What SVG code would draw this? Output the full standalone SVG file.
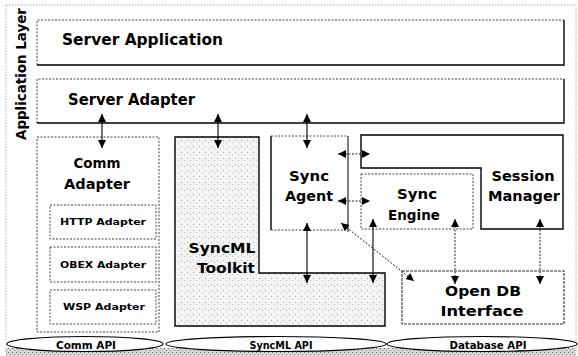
<svg xmlns="http://www.w3.org/2000/svg" width="578" height="356" viewBox="0 0 578 356">
<style>
.t{font-family:"DejaVu Sans","Liberation Sans",sans-serif;font-weight:bold;fill:#000}
.big{font-size:15px}
.mid{font-size:14px}
.sm{font-size:8.5px}
.api{font-size:10.5px}
.solid{fill:none;stroke:#000;stroke-width:1.4}
.dot{fill:none;stroke:#444;stroke-width:1;stroke-dasharray:2 1.5}
.arr{fill:none;stroke:#000;stroke-width:1.1;marker-start:url(#ah);marker-end:url(#ah)}
.arrd{fill:none;stroke:#222;stroke-width:1;stroke-dasharray:2 1.5;marker-start:url(#ah);marker-end:url(#ah)}
</style>
<defs>
<marker id="ah" viewBox="0 0 10 10" refX="10" refY="5" markerWidth="8" markerHeight="8" markerUnits="userSpaceOnUse" orient="auto-start-reverse">
<path d="M0,0 L10,5 L0,10 z" fill="#000"/>
</marker>
<pattern id="speck" width="6" height="6" patternUnits="userSpaceOnUse">
<rect width="6" height="6" fill="#f4f4f4"/>
<rect x="1" y="2" width="1" height="1" fill="#aaa"/>
<rect x="4" y="4" width="1" height="1" fill="#bbb"/>
</pattern>
<pattern id="band" width="4" height="4" patternUnits="userSpaceOnUse">
<rect width="4" height="4" fill="#d8d8d8"/>
<rect x="0" y="0" width="1" height="1" fill="#666"/>
<rect x="2" y="2" width="1" height="1" fill="#888"/>
</pattern>
</defs>
<rect width="578" height="356" fill="#fff"/>
<rect x="6" y="5" width="570" height="349" fill="none" stroke="#999" stroke-width="0.8" stroke-dasharray="1.5 1.5"/>

<g id="application-layer">
<text class="t mid" x="26" y="74" text-anchor="middle" textLength="132" lengthAdjust="spacingAndGlyphs" transform="rotate(-90 26 74)">Application Layer</text>
</g>

<g id="server-application">
<path class="dot" d="M37,65 V20 H564"/>
<path class="solid" d="M37,65 H564 V20"/>
<text class="t big" x="62" y="45" textLength="161" lengthAdjust="spacingAndGlyphs">Server Application</text>
</g>

<g id="server-adapter">
<path class="dot" d="M37,123 V79 H564"/>
<path class="solid" d="M37,123 H564 V79"/>
<text class="t big" x="68" y="105" textLength="127" lengthAdjust="spacingAndGlyphs">Server Adapter</text>
</g>

<g id="comm-adapter">
<rect class="dot" x="37" y="137" width="122" height="195"/>
<text class="t mid" x="97" y="168" text-anchor="middle" textLength="47" lengthAdjust="spacingAndGlyphs">Comm</text>
<text class="t mid" x="97" y="189" text-anchor="middle" textLength="66" lengthAdjust="spacingAndGlyphs">Adapter</text>
</g>
<g id="http-adapter">
<rect class="dot" x="50" y="205" width="106" height="34"/>
<text class="t sm" x="103" y="225" text-anchor="middle" textLength="86" lengthAdjust="spacingAndGlyphs">HTTP Adapter</text>
</g>
<g id="obex-adapter">
<rect class="dot" x="50" y="247" width="106" height="35"/>
<text class="t sm" x="103" y="268" text-anchor="middle" textLength="86" lengthAdjust="spacingAndGlyphs">OBEX Adapter</text>
</g>
<g id="wsp-adapter">
<rect class="dot" x="50" y="290" width="106" height="34"/>
<text class="t sm" x="104" y="310" text-anchor="middle" textLength="82" lengthAdjust="spacingAndGlyphs">WSP Adapter</text>
</g>

<g id="syncml-toolkit">
<path d="M175,137 H259 V273 H385 V326 H175 Z" fill="url(#speck)" stroke="#000" stroke-width="1.4"/>
<text class="t mid" x="222" y="253" text-anchor="middle" textLength="67" lengthAdjust="spacingAndGlyphs">SyncML</text>
<text class="t mid" x="226" y="273" text-anchor="middle" textLength="58" lengthAdjust="spacingAndGlyphs">Toolkit</text>
</g>

<g id="sync-agent">
<path class="dot" d="M271,136 H348 M271,230 H348"/>
<path class="solid" d="M271,136 V230" />
<path d="M348,136 V232" fill="none" stroke="#000" stroke-width="1"/>
<text class="t mid" x="309" y="181" text-anchor="middle" textLength="40" lengthAdjust="spacingAndGlyphs">Sync</text>
<text class="t mid" x="309" y="201" text-anchor="middle" textLength="48" lengthAdjust="spacingAndGlyphs">Agent</text>
</g>

<g id="session-manager">
<path class="solid" d="M361,135 H563 V229 H481 V168 H361 Z"/>
<text class="t mid" x="523" y="181" text-anchor="middle" textLength="63" lengthAdjust="spacingAndGlyphs">Session</text>
<text class="t mid" x="524" y="201" text-anchor="middle" textLength="72" lengthAdjust="spacingAndGlyphs">Manager</text>
</g>

<g id="sync-engine">
<rect class="dot" x="361" y="174" width="112" height="55"/>
<text class="t mid" x="417" y="199" text-anchor="middle" textLength="40" lengthAdjust="spacingAndGlyphs">Sync</text>
<text class="t mid" x="414" y="220" text-anchor="middle" textLength="52" lengthAdjust="spacingAndGlyphs">Engine</text>
</g>

<g id="open-db-interface">
<rect x="402" y="271" width="162" height="53" fill="none" stroke="#333" stroke-width="1.1" stroke-dasharray="3 1"/>
<text class="t mid" x="483" y="296" text-anchor="middle" textLength="76" lengthAdjust="spacingAndGlyphs">Open DB</text>
<text class="t mid" x="482" y="316" text-anchor="middle" textLength="83" lengthAdjust="spacingAndGlyphs">Interface</text>
</g>

<g id="connectors">
<path class="arr" d="M102,114 V148"/>
<path class="arr" d="M218,114 V148"/>
<path class="arr" d="M307,114 V148"/>
<path class="arrd" d="M338,154 H370"/>
<path class="arrd" d="M338,201 H370"/>
<path class="arrd" d="M341,223 L414,281"/>
<path class="arr" d="M307,223 V283"/>
<path class="arr" d="M373,219 V283"/>
<path class="arrd" d="M455,219 V284"/>
<path class="arrd" d="M540,219 V284"/>
</g>

<g id="api-band">
<rect x="6" y="348" width="570" height="8" fill="url(#band)"/>
<g id="comm-api">
<ellipse cx="85" cy="344" rx="78" ry="7.5" fill="#fff" stroke="#000" stroke-width="1.2"/>
<text class="t api" x="86" y="348.5" text-anchor="middle" textLength="60" lengthAdjust="spacingAndGlyphs">Comm API</text>
</g>
<g id="syncml-api">
<ellipse cx="276" cy="344" rx="110" ry="7.5" fill="#fff" stroke="#000" stroke-width="1.2"/>
<text class="t api" x="281" y="348.5" text-anchor="middle" textLength="63" lengthAdjust="spacingAndGlyphs">SyncML API</text>
</g>
<g id="database-api">
<ellipse cx="482" cy="344" rx="95" ry="7.5" fill="#fff" stroke="#000" stroke-width="1.2"/>
<text class="t api" x="488" y="348.5" text-anchor="middle" textLength="77" lengthAdjust="spacingAndGlyphs">Database API</text>
</g>
</g>
</svg>
